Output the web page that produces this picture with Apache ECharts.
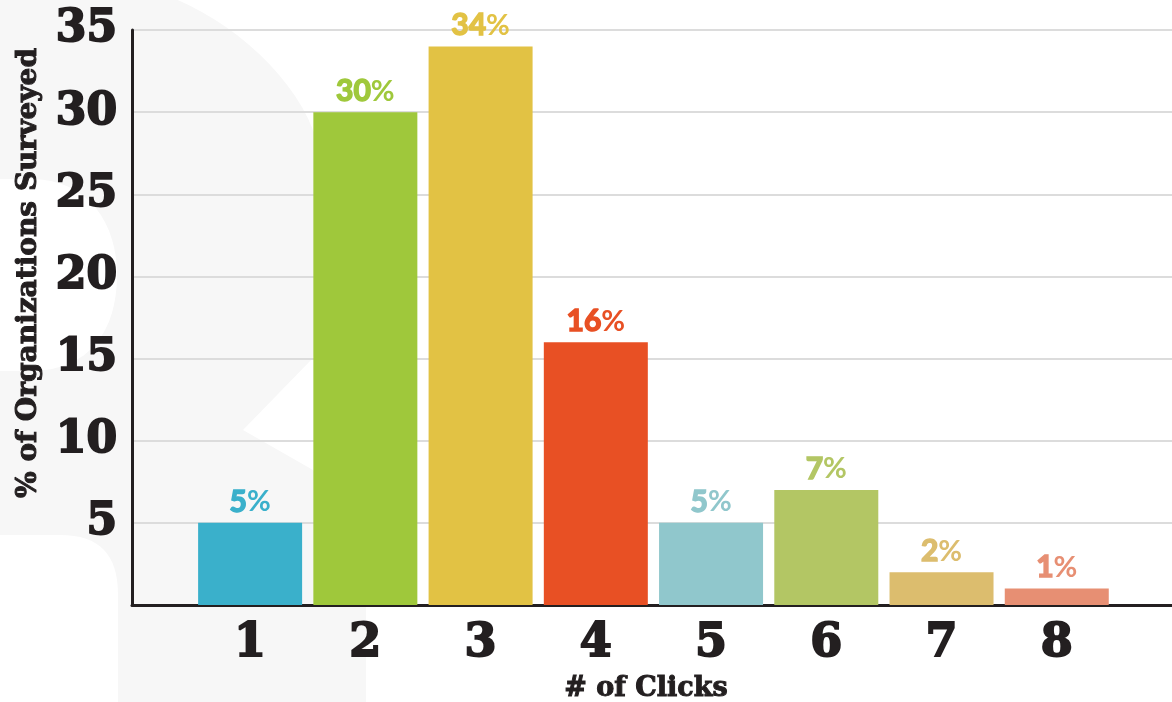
<!DOCTYPE html>
<html>
<head>
<meta charset="utf-8">
<script src="https://cdn.jsdelivr.net/npm/echarts@6/dist/echarts.min.js"></script>
<style>
  html, body { margin: 0; padding: 0; background: #fff; }
  #chart { width: 1172px; height: 702px; }
</style>
</head>
<body>
<div id="chart"></div>
<script>
  // data
  const clicks = [1, 2, 3, 4, 5, 6, 7, 8];
  const percents = [5, 30, 34, 16, 5, 7, 2, 1];
  const barColors = ['#3ab0cb', '#9fc83b', '#e2c244', '#e85024', '#90c7cc', '#b3c664', '#dcbd6e', '#e78f73'];

  const ink = '#231f20';
  const slab = '"DejaVu Serif", serif';

  const chart = echarts.init(document.getElementById('chart'));

  // turn a list of line / cubic segments into polygon points
  function outline(start, segs) {
    const pts = [start];
    let cur = start;
    segs.forEach(s => {
      if (s.length === 1) {
        pts.push(s[0]);
        cur = s[0];
        return;
      }
      const [c1, c2, end] = s;
      for (let k = 1; k <= 16; k++) {
        const t = k / 16, u = 1 - t;
        pts.push([
          u * u * u * cur[0] + 3 * u * u * t * c1[0] + 3 * u * t * t * c2[0] + t * t * t * end[0],
          u * u * u * cur[1] + 3 * u * u * t * c1[1] + 3 * u * t * t * c2[1] + t * t * t * end[1],
        ]);
      }
      cur = end;
    });
    return pts;
  }

  // big faint "B" in the background
  const bShape = outline([-10, -10], [
    [[150, -10]],
    [[220, 10], [290, 70], [313, 130]],
    [[335, 180], [345, 220], [340, 260]],
    [[335, 300], [325, 335], [313, 358]],
    [[243, 430]],
    [[313, 470]],
    [[345, 500], [362, 540], [366, 600]],
    [[366, 720]],
    [[-10, 720]],
  ]);
  const upperHole = outline([-10, 179], [
    [[30, 179]],
    [[90, 179], [117, 225], [117, 275]],
    [[117, 330], [90, 371], [30, 371]],
    [[-10, 371]],
  ]);
  const lowerHole = outline([-10, 535], [
    [[60, 535]],
    [[100, 535], [118, 555], [118, 595]],
    [[118, 720]],
    [[-10, 720]],
  ]);

  const option = {
    animation: false,
    backgroundColor: '#ffffff',
    grid: {
      left: 132,
      right: 0,
      top: 30,
      bottom: 97,
    },
    graphic: [
      { type: 'polygon', z: -10, silent: true, shape: { points: bShape }, style: { fill: '#f7f7f7' } },
      { type: 'polygon', z: -9, silent: true, shape: { points: upperHole }, style: { fill: '#ffffff' } },
      { type: 'polygon', z: -9, silent: true, shape: { points: lowerHole }, style: { fill: '#ffffff' } },
      {
        type: 'text',
        x: 29,
        y: 273,
        rotation: Math.PI / 2,
        style: {
          text: '% of Organizations Surveyed',
          fill: ink,
          stroke: ink,
          lineWidth: 1,
          font: 'bold 28px "DejaVu Serif", serif',
          align: 'center',
          verticalAlign: 'middle',
        },
      },
      {
        type: 'text',
        x: 646,
        y: 689,
        style: {
          text: '# of Clicks',
          fill: ink,
          stroke: ink,
          lineWidth: 1,
          font: 'bold 27px "DejaVu Serif", serif',
          align: 'center',
          verticalAlign: 'middle',
        },
      },
    ],
    xAxis: {
      type: 'value',
      min: -0.025,
      max: 9,
      axisLine: { show: true, onZero: false, lineStyle: { color: ink, width: 3 } },
      axisTick: { show: false },
      splitLine: { show: false },
      axisLabel: {
        customValues: clicks,
        color: ink,
        fontFamily: slab,
        fontWeight: 'bold',
        fontSize: 46,
        textBorderColor: ink,
        textBorderWidth: 2,
        margin: 16,
      },
    },
    yAxis: {
      type: 'value',
      min: 0,
      max: 35,
      interval: 5,
      axisLine: { show: true, onZero: false, lineStyle: { color: ink, width: 3 } },
      axisTick: { show: false },
      splitLine: { lineStyle: { color: '#dcdcdc', width: 2 } },
      axisLabel: {
        showMinLabel: false,
        color: ink,
        fontFamily: slab,
        fontWeight: 'bold',
        fontSize: 44,
        textBorderColor: ink,
        textBorderWidth: 2,
        margin: 15,
      },
    },
    series: [
      {
        type: 'bar',
        barWidth: 104,
        data: clicks.map((c, i) => ({
          value: [c, percents[i]],
          itemStyle: { color: barColors[i] },
          label: {
            show: true,
            position: 'top',
            distance: 6,
            formatter: '{n|' + percents[i] + '}{p|%}',
            rich: {
              n: {
                color: barColors[i], fontFamily: 'Lato, sans-serif', fontWeight: 'bold', fontSize: 30,
                textBorderColor: barColors[i], textBorderWidth: 1.5,
              },
              p: { color: barColors[i], fontFamily: 'Lato, sans-serif', fontWeight: 'bold', fontSize: 29 },
            },
          },
        })),
      },
    ],
  };

  chart.setOption(option);
</script>
</body>
</html>
